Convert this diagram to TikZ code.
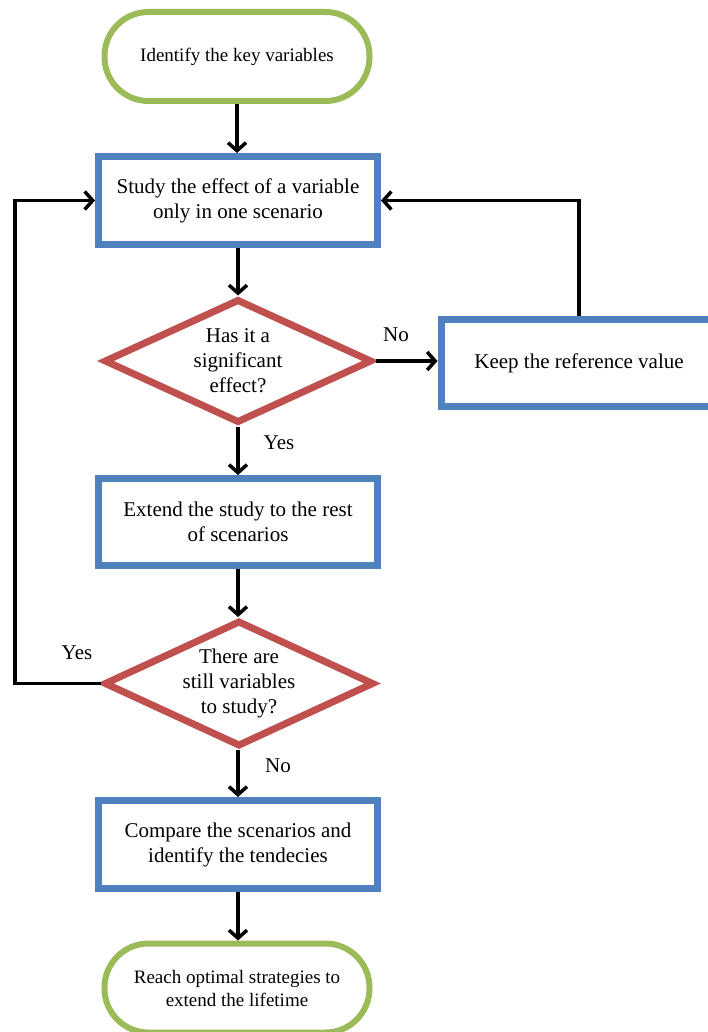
\documentclass[tikz,border=0pt]{standalone}
\usepackage{fontspec}
\setmainfont{Liberation Serif}
\usetikzlibrary{arrows.meta,shapes.geometric}
\definecolor{tgreen}{HTML}{9BBB59}
\definecolor{tblue}{HTML}{4F81BD}
\definecolor{tred}{HTML}{C0504D}
\tikzset{
  term/.style={draw=tgreen, line width=6pt, rounded corners=44pt, minimum width=265pt, minimum height=89pt, align=center, font=\fontsize{19}{23}\selectfont, fill=white},
  procbox/.style={draw=tblue, line width=7pt, minimum width=279pt, minimum height=88pt, align=center, font=\fontsize{21}{25}\selectfont, fill=white},
  decide/.style={draw=tred, line width=7pt, diamond, minimum width=268pt, minimum height=124pt, inner sep=0pt, fill=white},
  dtext/.style={align=center, font=\fontsize{21}{25}\selectfont},
  lbl/.style={font=\fontsize{21}{25}\selectfont},
  arr/.style={draw=black, line width=3.5pt, -{Straight Barb[length=8pt,width=18pt]}},
}
\begin{document}
\begin{tikzpicture}[x=1pt,y=-1pt]
\useasboundingbox (0,0) rectangle (708,1032);
\node[term] (t1) at (237,56.5) {Identify the key variables};
\node[procbox] (b1) at (238,200.5) {Study the effect of a variable\\only in one scenario};
\node[decide] (d1) at (238,361) {};
\node[dtext] (d1t) at (d1.center) {Has it a\\significant\\effect?};
\node[procbox, minimum width=276pt, minimum height=87pt] (keep) at (579,363) {Keep the reference value};
\node[procbox, minimum height=87pt] (b2) at (238,522) {Extend the study to the rest\\of scenarios};
\node[decide, minimum width=270pt, minimum height=126pt] (d2) at (239,683.5) {};
\node[dtext] (d2t) at (d2.center) {There are\\still variables\\to study?};
\node[procbox] (b3) at (238,844.5) {Compare the scenarios and\\identify the tendecies};
\node[term] (t2) at (237,988) {Reach optimal strategies to\\extend the lifetime};
\coordinate (loop) at (15,200.5);
\draw[arr] (t1.south) -- (t1.south |- b1.north);
\draw[arr] (b1.south) -- (d1.north);
\draw[arr] (d1.east) -- (keep.west |- d1.east);
\node[lbl] (no1) at (396,335) {No};
\draw[arr] (keep.north) |- (b1.east);
\draw[arr] (d1.south) -- (b2.north);
\node[lbl] (yes1) at (279,443) {Yes};
\draw[arr] (b2.south) -- (b2.south |- d2.north);
\draw[arr] (d2.west) -| (loop) -- (b1.west);
\node[lbl] (yes2) at (77,653) {Yes};
\draw[arr] (b3.north |- d2.south) -- (b3.north);
\node[lbl] (no2) at (278,766) {No};
\draw[arr] (b3.south) -- (b3.south |- t2.north);
\end{tikzpicture}
\end{document}
